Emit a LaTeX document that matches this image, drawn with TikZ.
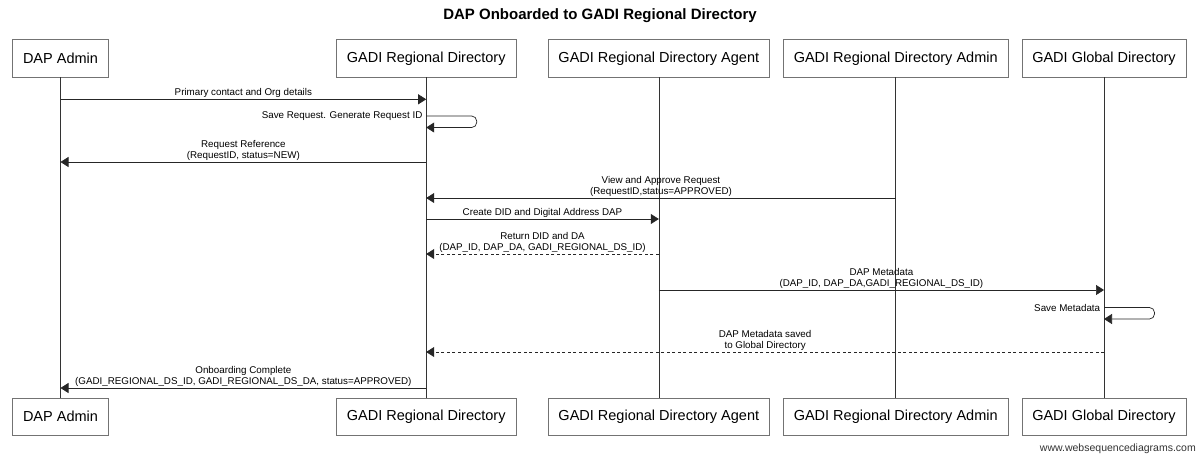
\documentclass[tikz,border=0pt]{standalone}
\usepackage{fontspec}
\setmainfont{Liberation Sans}
\usetikzlibrary{arrows.meta}

\begin{document}
\begin{tikzpicture}[
  x=1pt, y=-1pt,
  >={Triangle[length=8pt,width=10pt]},
  actor/.style={draw=black!55, fill=white, inner xsep=10.5pt, minimum height=37.5pt, font=\fontsize{14.5}{16}\selectfont},
  life/.style={draw=black!80, line width=0.6pt},
  msg/.style={->, draw=black!85, line width=0.7pt},
  reply/.style={msg, dash pattern=on 3pt off 2.5pt},
  selfloop/.style={msg, rounded corners=5pt},
  lbl/.style={font=\fontsize{9.8}{11}\selectfont, align=center, inner sep=1.5pt}
]
\path[fill=white, use as bounding box] (0,0) rectangle (1200,459);

\node[font=\bfseries\fontsize{15}{18}\selectfont] (title) at (600,16) {DAP Onboarded to GADI Regional Directory};

% participants, top row
\node[actor] (admin) at (60.5,58.3) {DAP Admin};
\node[actor] (rd) at (426.2,58.3) {GADI Regional Directory};
\node[actor] (agent) at (658.8,58.3) {GADI Regional Directory Agent};
\node[actor] (rdadmin) at (895.7,58.3) {GADI Regional Directory Admin};
\node[actor] (global) at (1104,58.3) {GADI Global Directory};

% participants, bottom row
\node[actor] (admin2) at (60.5,416.5) {DAP Admin};
\node[actor] (rd2) at (426.2,416.5) {GADI Regional Directory};
\node[actor] (agent2) at (658.8,416.5) {GADI Regional Directory Agent};
\node[actor] (rdadmin2) at (895.7,416.5) {GADI Regional Directory Admin};
\node[actor] (global2) at (1104,416.5) {GADI Global Directory};

\draw[life] (admin) -- (admin2);
\draw[life] (rd) -- (rd2);
\draw[life] (agent) -- (agent2);
\draw[life] (rdadmin) -- (rdadmin2);
\draw[life] (global) -- (global2);

% message levels
\coordinate (m1) at (0,99.3);
\coordinate (s1) at (0,116);
\coordinate (s1b) at (0,127.5);
\coordinate (m2) at (0,162);
\coordinate (m3) at (0,198);
\coordinate (m4) at (0,219);
\coordinate (m5) at (0,254);
\coordinate (m6) at (0,290);
\coordinate (s2) at (0,307.5);
\coordinate (s2b) at (0,319);
\coordinate (m7) at (0,352);
\coordinate (m8) at (0,388);

\draw[msg] (admin |- m1) -- node[lbl, above] {Primary contact and Org details} (rd |- m1);
\draw[selfloop] (rd |- s1) node[lbl, left=2pt] {Save Request. Generate Request ID} -- ++(50.5,0) -- ++(0,11.5) -- (rd |- s1b);
\draw[msg] (rd |- m2) -- node[lbl, above] {Request Reference\\(RequestID, status=NEW)} (admin |- m2);
\draw[msg] (rdadmin |- m3) -- node[lbl, above] {View and Approve Request\\(RequestID,status=APPROVED)} (rd |- m3);
\draw[msg] (rd |- m4) -- node[lbl, above] {Create DID and Digital Address DAP} (agent |- m4);
\draw[reply] (agent |- m5) -- node[lbl, above] {Return DID and DA\\(DAP\_ID, DAP\_DA, GADI\_REGIONAL\_DS\_ID)} (rd |- m5);
\draw[msg] (agent |- m6) -- node[lbl, above] {DAP Metadata\\(DAP\_ID, DAP\_DA,GADI\_REGIONAL\_DS\_ID)} (global |- m6);
\draw[selfloop] (global |- s2) node[lbl, left=2pt] {Save Metadata} -- ++(50.5,0) -- ++(0,11.5) -- (global |- s2b);
\draw[reply] (global |- m7) -- node[lbl, above] {DAP Metadata saved\\to Global Directory} (rd |- m7);
\draw[msg] (rd |- m8) -- node[lbl, above] {Onboarding Complete\\(GADI\_REGIONAL\_DS\_ID, GADI\_REGIONAL\_DS\_DA, status=APPROVED)} (admin |- m8);

\node[anchor=east, inner sep=0pt, text=black!80, font=\fontsize{10.5}{12}\selectfont] (wsd) at (1196,449) {www.websequencediagrams.com};

\end{tikzpicture}
\end{document}
